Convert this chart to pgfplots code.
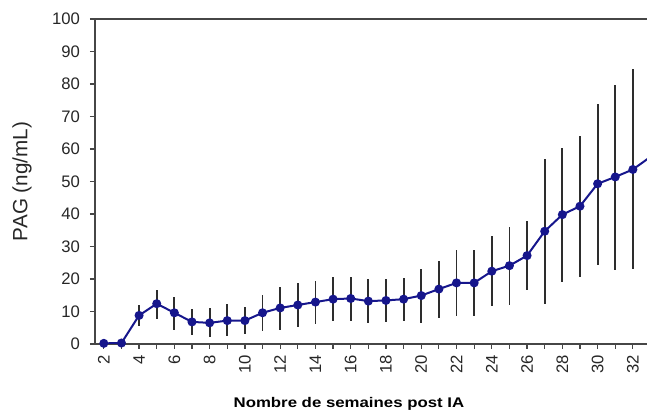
\documentclass[border=0pt]{standalone}
\usepackage{pgfplots}
\pgfplotsset{compat=1.18}
\usepackage{pgfplotstable}
\usepackage{fontspec}
\setmainfont{Liberation Sans}

\definecolor{pagblue}{RGB}{22,22,140}
\definecolor{bargray}{RGB}{45,45,45}
\definecolor{axgray}{RGB}{70,70,70}

% week, mean PAG, upper and lower error
\pgfplotstableread{
x  y     ep    em
2  0.2   0     0
3  0.3   0     0
4  8.8   3.1   3.3
5  12.4  4.2   4.6
6  9.6   4.9   5.2
7  6.8   4.1   3.9
8  6.5   4.6   4.3
9  7.2   5.0   4.8
10 7.2   4.3   4.1
11 9.6   5.5   5.5
12 11.1  6.5   6.7
13 12.0  6.8   6.8
14 12.9  6.4   6.6
15 13.8  6.7   6.8
16 14.0  6.7   6.8
17 13.2  6.7   6.7
18 13.4  6.6   6.7
19 13.8  6.6   6.6
20 14.9  8.1   8.3
21 16.9  8.7   8.8
22 18.8  10.2  10.1
23 18.8  10.2  10.1
24 22.4  10.9  10.6
25 24.1  11.9  12.1
26 27.2  10.6  10.5
27 34.7  22.3  22.5
28 39.8  20.6  20.8
29 42.4  21.6  21.8
30 49.3  24.5  24.9
31 51.4  28.3  28.6
32 53.7  30.9  30.7
33 57.6  0     0
}\pagdata

\begin{document}
\begin{tikzpicture}
\begin{axis}[
  name=ax,
  scale only axis,
  width=414pt, height=243.75pt,
  xmin=1.5, xmax=32.8,
  ymin=0, ymax=100,
  axis y line*=left,
  axis line style={axgray, line width=1.1pt},
  xtick={2,4,...,32},
  minor xtick={3,5,...,33},
  ytick={0,10,...,100},
  xtick pos=left,
  ytick pos=left,
  tick align=outside,
  major tick length=3.75pt,
  minor tick length=3.75pt,
  tick style={axgray, line width=0.9pt},
  /pgf/number format/assume math mode=true,
  ticklabel style={font=\fontsize{12.5}{14}\selectfont, text=black!85},
  xticklabel style={rotate=90, anchor=east, xshift=-1pt},
  yticklabel style={xshift=-4pt},
  ylabel={PAG (ng/mL)},
  ylabel style={at={(rel axis cs:0,0.5)}, anchor=center, rotate=0, yshift=54.75pt,
                font=\fontsize{15.5}{18}\selectfont, text=black!85},
  xlabel={\scalebox{1.2}[1]{\bfseries Nombre de semaines post IA}},
  xlabel style={at={(rel axis cs:0.46,0)}, anchor=base, yshift=-47.5pt,
                font=\fontsize{10.5}{12}\selectfont},
]
\addplot[pagblue, line width=1.5pt, mark=*, mark size=2.6pt,
         mark options={fill=pagblue, draw=pagblue},
         error bars/.cd, y dir=both, y explicit,
         error bar style={bargray, line width=1.4pt}, error mark=none]
  table[x=x, y=y, y error plus=ep, y error minus=em]{\pagdata};
\end{axis}
\pgfresetboundingbox
\path ([shift={(-71.25pt,-51.75pt)}]ax.south west) rectangle ([yshift=14.25pt]ax.north east);
\end{tikzpicture}
\end{document}
